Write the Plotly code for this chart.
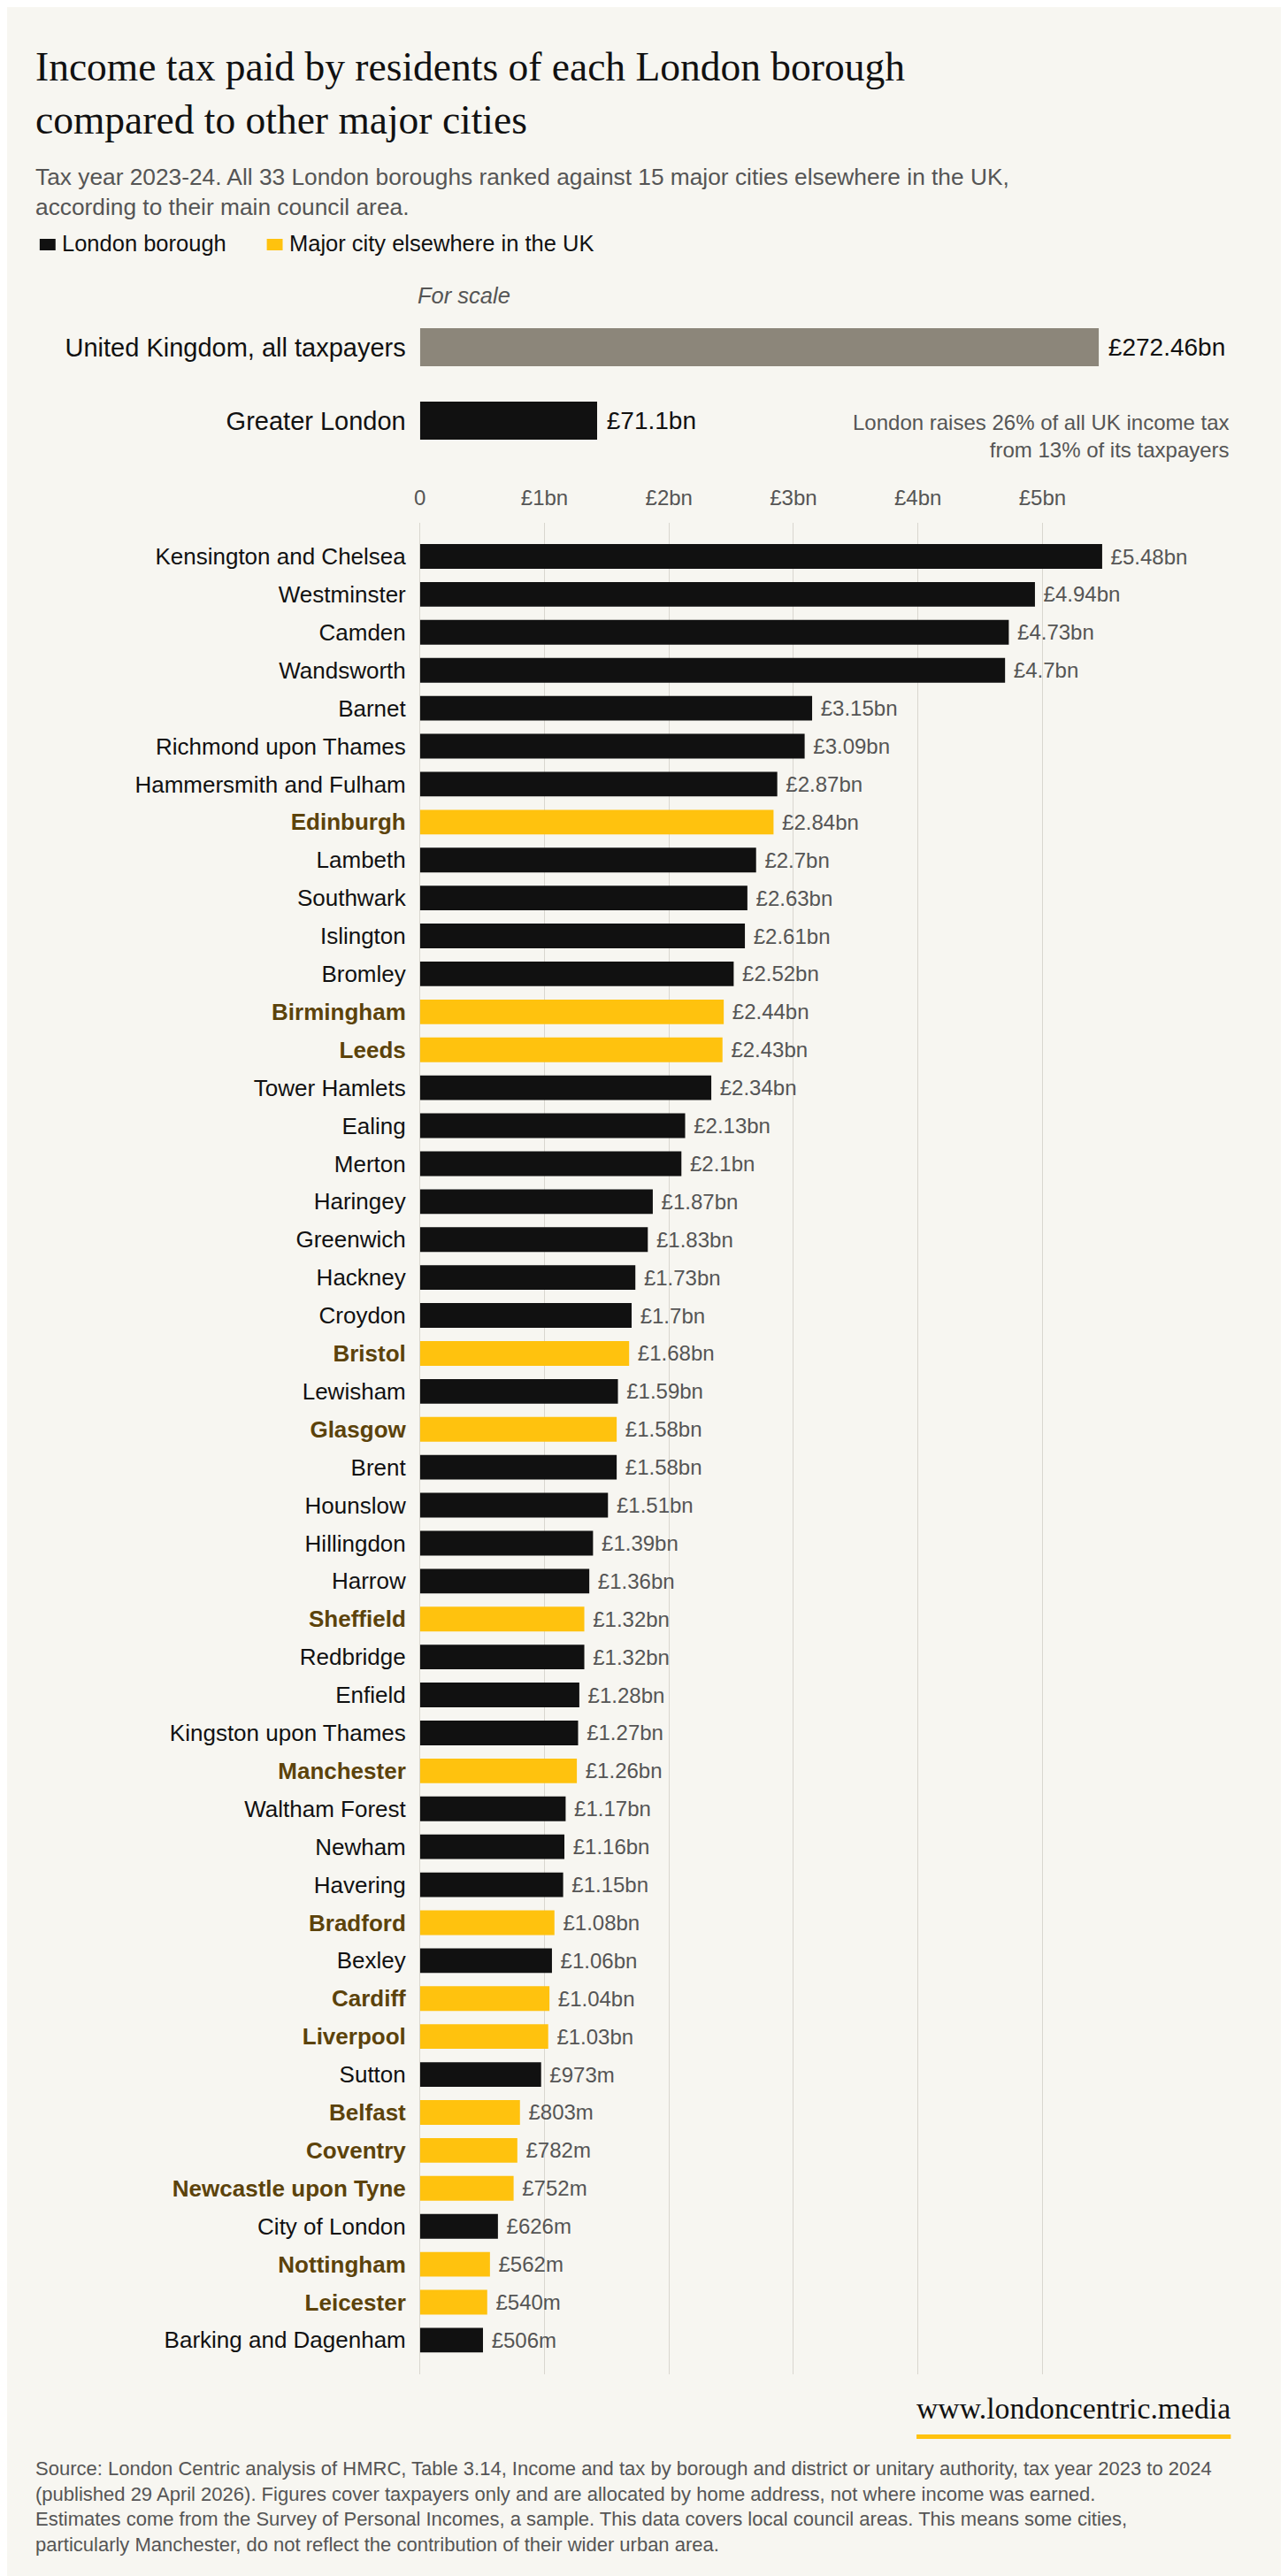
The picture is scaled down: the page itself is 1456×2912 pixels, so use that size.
import plotly.graph_objects as go

W, H = 1456, 2912

# ---------------- data ----------------
areas = [
    "Kensington and Chelsea", "Westminster", "Camden", "Wandsworth", "Barnet",
    "Richmond upon Thames", "Hammersmith and Fulham", "Edinburgh", "Lambeth",
    "Southwark", "Islington", "Bromley", "Birmingham", "Leeds", "Tower Hamlets",
    "Ealing", "Merton", "Haringey", "Greenwich", "Hackney", "Croydon", "Bristol",
    "Lewisham", "Glasgow", "Brent", "Hounslow", "Hillingdon", "Harrow", "Sheffield",
    "Redbridge", "Enfield", "Kingston upon Thames", "Manchester", "Waltham Forest",
    "Newham", "Havering", "Bradford", "Bexley", "Cardiff", "Liverpool", "Sutton",
    "Belfast", "Coventry", "Newcastle upon Tyne", "City of London", "Nottingham",
    "Leicester", "Barking and Dagenham",
]
tax_bn = [
    5.48, 4.94, 4.73, 4.70, 3.15, 3.09, 2.87, 2.84, 2.70, 2.63, 2.61, 2.52,
    2.44, 2.43, 2.34, 2.13, 2.10, 1.87, 1.83, 1.73, 1.70, 1.68, 1.59, 1.58,
    1.58, 1.51, 1.39, 1.36, 1.32, 1.32, 1.28, 1.27, 1.26, 1.17, 1.16, 1.15,
    1.08, 1.06, 1.04, 1.03, 0.973, 0.803, 0.782, 0.752, 0.626, 0.562, 0.540, 0.506,
]
cities = [
    "Edinburgh", "Birmingham", "Leeds", "Bristol", "Glasgow", "Sheffield",
    "Manchester", "Bradford", "Cardiff", "Liverpool", "Belfast", "Coventry",
    "Newcastle upon Tyne", "Nottingham", "Leicester",
]
scale_names = ["United Kingdom, all taxpayers", "Greater London"]
scale_bn = [272.46, 71.1]
axis_ticks = [0, 1, 2, 3, 4, 5]
axis_tick_labels = ["0", "£1bn", "£2bn", "£3bn", "£4bn", "£5bn"]

# ---------------- style ----------------
BG = "#f7f6f1"
BLACK = "#111111"
GOLD = "#ffc20e"
CITY_TXT = "#5c430b"
GREY_TXT = "#555555"
UK_GREY = "#8c867a"
GRID = "#d9d6cf"
SANS = "Liberation Sans, Arial, sans-serif"
SERIF = "Liberation Serif, Times New Roman, serif"

OX, OY = -8, -8  # compensate for page body margin


def fx(px):
    return (px + OX) / W


def fy(py):
    return 1 - (py + OY) / H


def fmt(v):
    if v >= 1:
        return f"\u00a0£{v:g}bn"
    return f"\u00a0£{round(v * 1000)}m"


is_city = [a in cities for a in areas]
bar_colors = [GOLD if c else BLACK for c in is_city]
tick_text = [
    f"<b><span style='color:{CITY_TXT}'>{a}</span></b>" if c else a
    for a, c in zip(areas, is_city)
]

fig = go.Figure()

# main ranking bars
fig.add_trace(go.Bar(
    x=tax_bn, y=areas, orientation="h",
    marker=dict(color=bar_colors, line=dict(width=0)),
    width=0.65,
    text=[fmt(v) for v in tax_bn], textposition="outside",
    textfont=dict(family=SANS, size=24, color=GREY_TXT),
    constraintext="none", cliponaxis=False,
    xaxis="x", yaxis="y", showlegend=False, hoverinfo="skip",
))

# scale bars
fig.add_trace(go.Bar(
    x=scale_bn, y=scale_names, orientation="h",
    marker=dict(color=[UK_GREY, BLACK], line=dict(width=0)),
    width=0.52,
    text=[f"\u00a0£{v:g}bn" for v in scale_bn], textposition="outside",
    textfont=dict(family=SANS, size=28, color=BLACK),
    constraintext="none", cliponaxis=False,
    xaxis="x2", yaxis="y2", showlegend=False, hoverinfo="skip",
))

x_left, x_right = 470, 1390
px_per_bn = 141.4
fig.update_layout(
    width=W, height=H,
    margin=dict(l=0, r=0, t=0, b=0),
    paper_bgcolor=BG, plot_bgcolor=BG,
    font=dict(family=SANS, color=BLACK),
    xaxis=dict(
        domain=[fx(x_left), fx(x_right)],
        range=[0, (x_right - x_left) / px_per_bn],
        side="top", anchor="y",
        tickvals=axis_ticks, ticktext=axis_tick_labels,
        tickfont=dict(family=SANS, size=24, color=GREY_TXT),
        showgrid=True, gridcolor=GRID, gridwidth=1,
        zeroline=True, zerolinecolor=GRID, zerolinewidth=1,
        showline=False, ticks="", ticklabelstandoff=14,
        fixedrange=True,
    ),
    yaxis=dict(
        domain=[fy(2684), fy(591)],
        range=[47.9, -0.886],
        type="category", anchor="x",
        tickvals=areas, ticktext=tick_text,
        tickfont=dict(family=SANS, size=26, color=BLACK),
        showgrid=False, zeroline=False, showline=False, ticks="",
        ticklabelstandoff=15, fixedrange=True,
    ),
    xaxis2=dict(
        domain=[fx(x_left), fx(x_right)],
        range=[0, 272.46 * (x_right - x_left) / (1244 - 473)], anchor="y2",
        showgrid=False, zeroline=False, showticklabels=False, showline=False,
        fixedrange=True,
    ),
    yaxis2=dict(
        domain=[fy(517), fy(351)],
        range=[1.5, -0.5], type="category", anchor="x2",
        tickfont=dict(family=SANS, size=29, color=BLACK),
        showgrid=False, zeroline=False, showline=False, ticks="",
        ticklabelstandoff=15, fixedrange=True,
    ),
)

LX = 31  # left anchor for left-aligned text blocks
ann = []
# title
ann.append(dict(text="Income tax paid by residents of each London borough",
                x=fx(LX), y=fy(75), xanchor="left", yanchor="middle",
                font=dict(family=SERIF, size=45.5, color=BLACK)))
ann.append(dict(text="compared to other major cities",
                x=fx(LX), y=fy(136), xanchor="left", yanchor="middle",
                font=dict(family=SERIF, size=45.5, color=BLACK)))
# subtitle
ann.append(dict(text="Tax year 2023-24. All 33 London boroughs ranked against 15 major cities elsewhere in the UK,"
                     "<br>according to their main council area.",
                x=fx(LX), y=fy(183), xanchor="left", yanchor="top", align="left",
                font=dict(family=SANS, size=26.3, color=GREY_TXT)))
# legend
ann.append(dict(text="London borough", x=fx(61), y=fy(275), xanchor="left", yanchor="middle",
                font=dict(family=SANS, size=25.5, color=BLACK)))
ann.append(dict(text="Major city elsewhere in the UK", x=fx(319), y=fy(275), xanchor="left",
                yanchor="middle", font=dict(family=SANS, size=25.5, color=BLACK)))
# for scale
ann.append(dict(text="<i>For scale</i>", x=fx(465), y=fy(334), xanchor="left", yanchor="middle",
                font=dict(family=SANS, size=25.5, color=GREY_TXT)))
# note
ann.append(dict(text="London raises 26% of all UK income tax<br>from 13% of its taxpayers",
                x=fx(1392), y=fy(493), xanchor="right", yanchor="middle", align="right",
                font=dict(family=SANS, size=24, color=GREY_TXT)))
# website
ann.append(dict(text="www.londoncentric.media", x=fx(1393), y=fy(2722), xanchor="right",
                yanchor="middle", font=dict(family=SERIF, size=33.7, color=BLACK)))
# source
ann.append(dict(
    text="Source: London Centric analysis of HMRC, Table 3.14, Income and tax by borough and district or unitary authority, tax year 2023 to 2024"
         "<br>(published 29 April 2026). Figures cover taxpayers only and are allocated by home address, not where income was earned."
         "<br>Estimates come from the Survey of Personal Incomes, a sample. This data covers local council areas. This means some cities,"
         "<br>particularly Manchester, do not reflect the contribution of their wider urban area.",
    x=fx(LX), y=fy(2776), xanchor="left", yanchor="top", align="left",
    font=dict(family=SANS, size=22, color=GREY_TXT)))

for a in ann:
    a.update(xref="paper", yref="paper", showarrow=False)
fig.update_layout(annotations=ann)

shapes = [
    dict(type="rect", xref="paper", yref="paper",
         x0=fx(38), x1=fx(56), y0=fy(283), y1=fy(270),
         fillcolor=BLACK, line=dict(width=0)),
    dict(type="rect", xref="paper", yref="paper",
         x0=fx(296), x1=fx(314), y0=fy(283), y1=fy(270),
         fillcolor=GOLD, line=dict(width=0)),
    dict(type="rect", xref="paper", yref="paper",
         x0=fx(1034), x1=fx(1391), y0=fy(2757), y1=fy(2752),
         fillcolor=GOLD, line=dict(width=0)),
]
fig.update_layout(shapes=shapes)

fig.write_html("out.html")
